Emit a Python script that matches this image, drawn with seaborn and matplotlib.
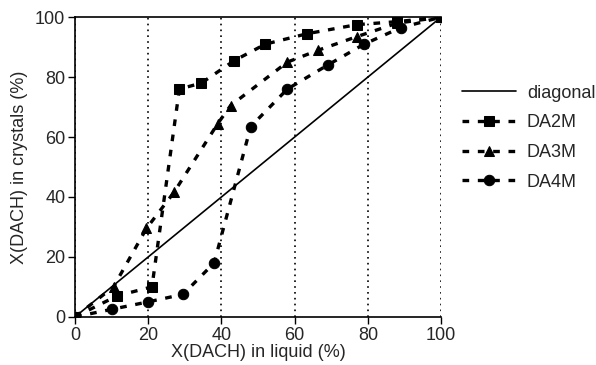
import pandas as pd
import seaborn as sns
import matplotlib.pyplot as plt

# --- data ---
diag_x = [0, 100]
diag_y = [0, 100]

da2m_x = [0, 11.5, 21, 28.5, 34.5, 43.5, 52, 63.5, 77, 88, 100]
da2m_y = [0, 7, 10, 76, 78, 85.5, 91, 94.5, 97.5, 98.5, 100]

da3m_x = [0, 10.5, 19.5, 27, 39, 42.5, 58, 66.5, 77, 88, 100]
da3m_y = [0, 10, 29.5, 41.5, 64.5, 70.5, 85, 89, 93.5, 98, 100]

da4m_x = [0, 10, 20, 29.5, 38, 48, 58, 69, 79, 89, 100]
da4m_y = [0, 2.5, 5, 7.5, 18, 63.5, 76, 84, 91, 96.5, 100]

series = [
    ("DA2M", da2m_x, da2m_y, "s"),
    ("DA3M", da3m_x, da3m_y, "^"),
    ("DA4M", da4m_x, da4m_y, "o"),
]

sns.set_style("ticks")
plt.rcParams["font.family"] = ["Liberation Sans", "DejaVu Sans"]

fig, ax = plt.subplots(figsize=(5.96, 3.65), dpi=100)
fig.subplots_adjust(left=0.126, right=0.74, top=0.953, bottom=0.132)

sns.lineplot(x=diag_x, y=diag_y, ax=ax, color="black", linewidth=1.2,
             label="diagonal", sort=False, estimator=None)

for name, xs, ys, mk in series:
    df = pd.DataFrame({"liquid": xs, "crystals": ys})
    sns.lineplot(data=df, x="liquid", y="crystals", ax=ax, color="black",
                 marker=mk, markersize=7.5, markeredgecolor="black",
                 linewidth=2.4, linestyle=(0, (2, 2.6)), label=name,
                 sort=False, estimator=None)

ax.set_xlim(0, 100)
ax.set_ylim(0, 100)
ax.set_xticks([0, 20, 40, 60, 80, 100])
ax.set_yticks([0, 20, 40, 60, 80, 100])
ax.grid(axis="x", color="black", linestyle=(0, (1, 2.5)), linewidth=1.2)
ax.set_axisbelow(False)
ax.spines["right"].set_visible(False)
for s in ["left", "bottom", "top"]:
    ax.spines[s].set_color("black")
    ax.spines[s].set_linewidth(1.2)
ax.tick_params(axis="both", labelsize=13, length=5, width=1.0, color="black",
               direction="out", pad=2)
ax.set_xlabel("X(DACH) in liquid (%)", fontsize=13, labelpad=0)
ax.set_ylabel("X(DACH) in crystals (%)", fontsize=13, labelpad=5)

ax.legend(loc="center left", bbox_to_anchor=(1.057, 0.598), frameon=False,
          fontsize=13, handlelength=3, labelspacing=0.7, handletextpad=0.6,
          borderpad=0, borderaxespad=0)

plt.savefig("out.png", dpi=100)
